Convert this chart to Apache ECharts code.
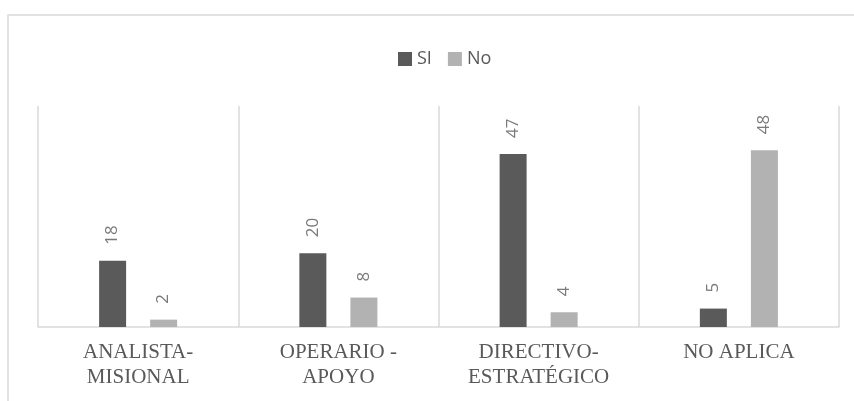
<!DOCTYPE html>
<html>
<head>
<meta charset="utf-8">
<script src="https://cdn.jsdelivr.net/npm/echarts@6/dist/echarts.min.js"></script>
<style>
html,body{margin:0;padding:0;background:#fff;}
#chart{width:854px;height:401px;}
</style>
</head>
<body>
<div id="chart"></div>
<script>
const categories = ['ANALISTA-\nMISIONAL', 'OPERARIO -\nAPOYO', 'DIRECTIVO-\nESTRATÉGICO', 'NO APLICA'];
const seriesNames = ['SI', 'No'];
const siValues = [18, 20, 47, 5];
const noValues = [2, 8, 4, 48];

const chart = echarts.init(document.getElementById('chart'));
const valueLabel = {
  show: true,
  position: 'top',
  rotate: 90,
  align: 'left',
  verticalAlign: 'middle',
  distance: 16,
  color: '#7a7a7a',
  fontSize: 17,
  fontFamily: 'Open Sans'
};
chart.setOption({
  animation: false,
  backgroundColor: '#ffffff',
  graphic: [{
    type: 'rect',
    shape: {x: 8, y: 15, width: 1000, height: 600},
    style: {fill: 'none', stroke: '#d9d9d9', lineWidth: 1.5},
    silent: true
  }],
  legend: {
    data: seriesNames,
    top: 45,
    left: 393,
    itemWidth: 14,
    itemHeight: 14,
    itemGap: 16,
    icon: 'rect',
    textStyle: {color: '#595959', fontSize: 18, fontFamily: 'Open Sans'}
  },
  grid: {left: 38, right: 15, top: 106, bottom: 74, containLabel: false},
  xAxis: {
    type: 'category',
    data: categories,
    axisLine: {show: true, lineStyle: {color: '#d9d9d9', width: 1.5}},
    axisTick: {show: false},
    splitLine: {show: true, lineStyle: {color: '#d9d9d9', width: 1.5}},
    axisLabel: {
      interval: 0,
      margin: 13,
      color: '#595959',
      fontSize: 21,
      lineHeight: 25,
      fontFamily: 'Liberation Serif'
    }
  },
  yAxis: {
    type: 'value',
    min: 0,
    max: 60,
    show: false,
    splitLine: {show: false}
  },
  series: [
    {name: seriesNames[0], type: 'bar', data: siValues, barWidth: 27, barGap: '89%', itemStyle: {color: '#5a5a5a'}, label: valueLabel},
    {name: seriesNames[1], type: 'bar', data: noValues, barWidth: 27, barGap: '89%', itemStyle: {color: '#b2b2b2'}, label: valueLabel}
  ]
});
</script>
</body>
</html>
